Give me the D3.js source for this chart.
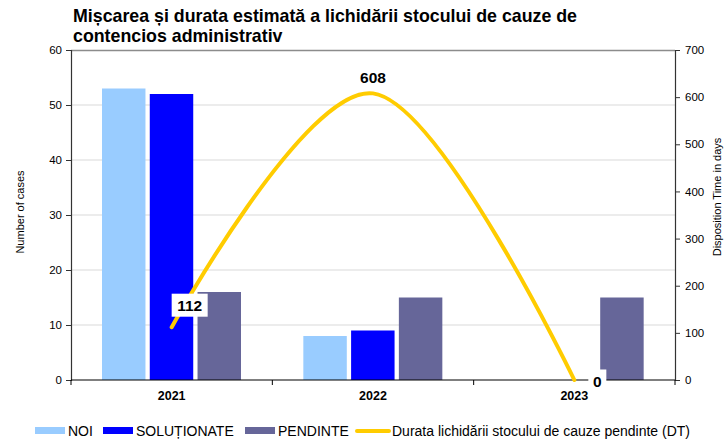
<!DOCTYPE html>
<html>
<head>
<meta charset="utf-8">
<script src="https://cdn.jsdelivr.net/npm/d3@7"></script>
<style>
  body { margin: 0; background: #fff; }
  svg { font-family: 'Liberation Sans', Arial, sans-serif; }
</style>
</head>
<body>
<script>
const years = ['2021', '2022', '2023']
const seriesNames = ['NOI', 'SOLUȚIONATE', 'PENDINTE']
const noi = [53, 8, 0]
const solutionate = [52, 9, 0]
const pendinte = [16, 15, 15]
const durata = [112, 608, 0]
const leftTicks = [0, 10, 20, 30, 40, 50, 60]
const rightTicks = [0, 100, 200, 300, 400, 500, 600, 700]
const colors = ['#99CCFF', '#0000FF', '#666699']
const lineColor = '#FFCC00'

const W = 724, H = 442
const m = { top: 50, right: 49, bottom: 62, left: 71 }
const plotW = W - m.left - m.right
const plotH = H - m.top - m.bottom

const svg = d3.select('body').append('svg').attr('width', W).attr('height', H)
const g = svg.append('g').attr('transform', `translate(${m.left},${m.top})`)

const x0 = d3.scaleBand().domain(years).range([0, plotW])
const x1 = d3.scaleBand().domain(seriesNames).range([31, 170]).paddingInner(0.09)
const yL = d3.scaleLinear().domain([0, 60]).range([plotH, 0])
const yR = d3.scaleLinear().domain([0, 700]).range([plotH, 0])

// grid
g.append('g').selectAll('line').data(leftTicks.slice(1, -1)).enter().append('line')
  .attr('x1', 0).attr('x2', plotW)
  .attr('y1', d => yL(d)).attr('y2', d => yL(d))
  .attr('stroke', '#d9d9d9').attr('stroke-width', 1)
g.append('line').attr('x1', 0).attr('x2', plotW).attr('y1', 0.5).attr('y2', 0.5)
  .attr('stroke', '#8c8c8c').attr('stroke-width', 1.5)

// bars
const seriesVals = [noi, solutionate, pendinte]
seriesNames.forEach((s, si) => {
  g.append('g').selectAll('rect').data(years).enter().append('rect')
    .attr('x', d => x0(d) + x1(s))
    .attr('width', x1.bandwidth())
    .attr('y', (d, i) => yL(seriesVals[si][i]))
    .attr('height', (d, i) => plotH - yL(seriesVals[si][i]))
    .attr('fill', colors[si])
})

// axes
const axL = g.append('g').call(d3.axisLeft(yL).tickValues(leftTicks).tickSize(5).tickPadding(4))
const axR = g.append('g').attr('transform', `translate(${plotW},0)`)
  .call(d3.axisRight(yR).tickValues(rightTicks).tickSize(5).tickPadding(5))
;[axL, axR].forEach(a => {
  a.select('.domain').attr('stroke', '#333').attr('stroke-width', 1.2)
  a.selectAll('.tick line').attr('stroke', '#333')
  a.selectAll('text').attr('font-size', 11.5).attr('fill', '#000')
    .attr('font-family', "'Liberation Sans', Arial, sans-serif")
})

const axB = g.append('g').attr('transform', `translate(0,${plotH})`)
axB.append('line').attr('x1', 0).attr('x2', plotW).attr('stroke', '#000').attr('stroke-width', 1.2)
axB.selectAll('line.t').data(d3.range(years.length + 1)).enter().append('line')
  .attr('class', 't')
  .attr('x1', i => i * x0.step()).attr('x2', i => i * x0.step())
  .attr('y1', 0).attr('y2', 5).attr('stroke', '#000')
axB.selectAll('text').data(years).enter().append('text')
  .attr('x', d => x0(d) + x0.bandwidth() / 2)
  .attr('y', 20)
  .attr('text-anchor', 'middle')
  .attr('font-size', 12.5).attr('font-weight', 'bold')
  .text(d => d)

// line
const pts = years.map((y, i) => [x0(y) + x0.bandwidth() / 2, yR(durata[i])])
g.append('path').datum(pts)
  .attr('d', d3.line().curve(d3.curveCardinal.tension(0)))
  .attr('fill', 'none').attr('stroke', lineColor).attr('stroke-width', 4)
  .attr('stroke-linecap', 'round')

// data labels
const labelPos = [
  { dx: 18, dy: -22, box: true },
  { dx: 0, dy: -16, box: false },
  { dx: 23, dy: 1, box: true }
]
pts.forEach((p, i) => {
  const lp = labelPos[i]
  const lg = g.append('g').attr('transform', `translate(${p[0] + lp.dx},${p[1] + lp.dy})`)
  const txt = String(durata[i])
  if (lp.box) {
    const w = txt.length * 9 + 9
    lg.append('rect').attr('x', -w / 2).attr('y', -11.5).attr('width', w).attr('height', 23)
      .attr('fill', '#fff')
  }
  lg.append('text').attr('text-anchor', 'middle').attr('dy', '0.36em')
    .attr('font-size', 15.5).attr('font-weight', 'bold').text(txt)
})

// axis titles
svg.append('text').attr('transform', 'translate(24,212) rotate(-90)')
  .attr('text-anchor', 'middle').attr('font-size', 11).text('Number of cases')
svg.append('text').attr('transform', 'translate(721,197) rotate(-90)')
  .attr('text-anchor', 'middle').attr('font-size', 11).text('Disposition Time in days')

// title
const title = svg.append('text').attr('x', 73).attr('font-size', 17.8).attr('font-weight', 'bold')
title.append('tspan').attr('x', 73).attr('y', 22).text('Mișcarea și durata estimată a lichidării stocului de cauze de')
title.append('tspan').attr('x', 73).attr('y', 42).text('contencios administrativ')

// legend
const legend = [
  { name: 'NOI', type: 'rect', color: colors[0], x: 35 },
  { name: 'SOLUȚIONATE', type: 'rect', color: colors[1], x: 103 },
  { name: 'PENDINTE', type: 'rect', color: colors[2], x: 245 },
  { name: 'Durata lichidării stocului de cauze pendinte (DT)', type: 'line', color: lineColor, x: 357 }
]
const lgG = svg.append('g')
legend.forEach(d => {
  if (d.type === 'rect') {
    lgG.append('rect').attr('x', d.x).attr('y', 427).attr('width', 30).attr('height', 7).attr('fill', d.color)
  } else {
    lgG.append('line').attr('x1', d.x).attr('x2', d.x + 32).attr('y1', 431).attr('y2', 431)
      .attr('stroke', d.color).attr('stroke-width', 4).attr('stroke-linecap', 'round')
  }
  lgG.append('text').attr('x', d.x + (d.type === 'rect' ? 33 : 35)).attr('y', 436)
    .attr('font-size', 14).text(d.name)
})
</script>
</body>
</html>
